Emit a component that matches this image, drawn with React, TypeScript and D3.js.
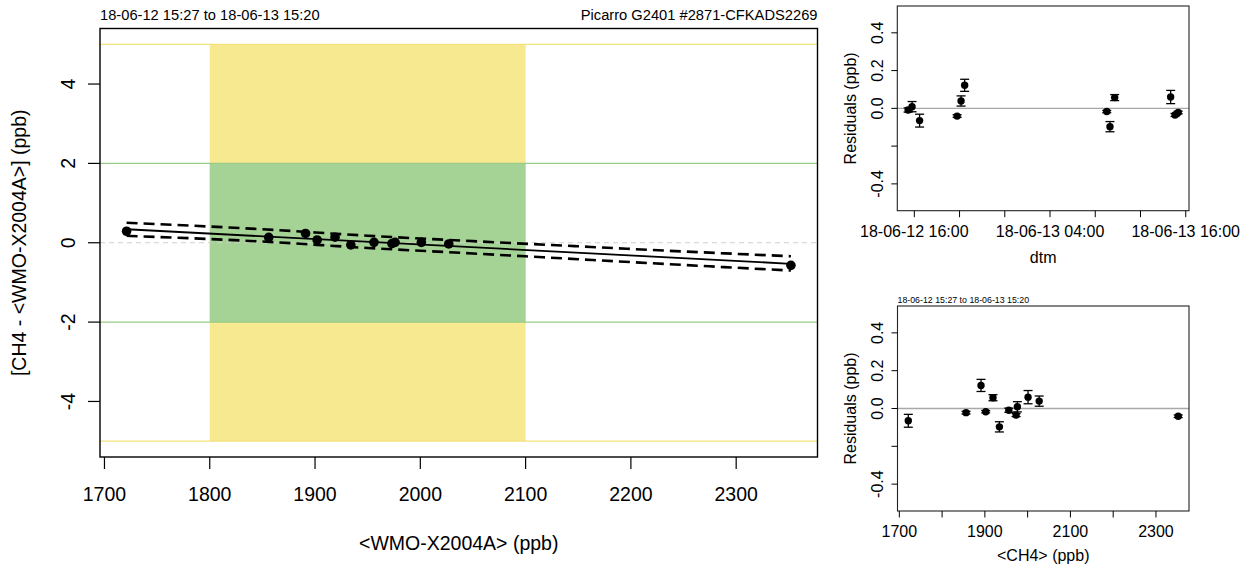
import React from "react";
import * as d3 from "d3";

const FONT = "'Liberation Sans', Arial, Helvetica, sans-serif";

// ---- data (one entry per calibration sample, time ordered) ----
const sampleTimes = [
  "2018-06-12 15:27", "2018-06-12 15:48", "2018-06-12 16:28", "2018-06-12 19:47",
  "2018-06-12 20:08", "2018-06-12 20:27", "2018-06-13 09:01", "2018-06-13 09:18",
  "2018-06-13 09:43", "2018-06-13 14:40", "2018-06-13 15:03", "2018-06-13 15:20",
];
const ch4Values = [1956, 1976, 1721, 2352, 2027, 1891, 1902, 1934, 1919, 2001, 1973, 1856];
const diffValues = [0.01, 0.01, 0.29, -0.57, -0.03, 0.235, 0.07, -0.055, 0.14, 0.01, -0.02, 0.135];
const residuals = [-0.009, 0.009, -0.065, -0.041, 0.039, 0.122, -0.017, -0.097, 0.057, 0.06, -0.035, -0.022];
const residualErrors = [0.011, 0.027, 0.034, 0.007, 0.027, 0.032, 0.006, 0.027, 0.016, 0.035, 0.008, 0.007];

// fit and its band
const fitX = [1721, 2352];
const fitY = [0.34, -0.53];
const bandX = [1721, 1850, 1950, 2050, 2150, 2250, 2352];
const bandUpper = [0.505, 0.34, 0.178, 0.04, -0.09, -0.22, -0.34];
const bandLower = [0.175, 0.03, -0.132, -0.27, -0.415, -0.56, -0.7];

// reference ranges
const targetRange = [1800, 2100];
const outerLimits = [-5, 5];
const innerLimits = [-2, 2];

// ticks
const mainXTicks = [1700, 1800, 1900, 2000, 2100, 2200, 2300];
const mainYTicks = [-4, -2, 0, 2, 4];
const resYTicks = [-0.4, -0.2, 0, 0.2, 0.4];
const resYTickLabels = ["-0.4", "", "0.0", "0.2", "0.4"];
const ch4Ticks = [1700, 1800, 1900, 2000, 2100, 2200, 2300];
const ch4TickLabels = ["1700", "", "1900", "", "2100", "", "2300"];
const timeTicks = [
  "2018-06-12 16:00", "2018-06-12 20:00", "2018-06-13 00:00", "2018-06-13 04:00",
  "2018-06-13 08:00", "2018-06-13 12:00", "2018-06-13 16:00",
];
const timeTickLabels = ["18-06-12 16:00", "", "", "18-06-13 04:00", "", "", "18-06-13 16:00"];

const periodText = "18-06-12 15:27 to 18-06-13 15:20";
const instrumentText = "Picarro G2401 #2871-CFKADS2269";

const parseT = d3.timeParse("%Y-%m-%d %H:%M");

function expand(ext: [number, number], f = 0.04): [number, number] {
  const r = ext[1] - ext[0];
  return [ext[0] - r * f, ext[1] + r * f];
}

export default function App() {
  const times = sampleTimes.map((s) => parseT(s) as Date);

  // main panel
  const M = { l: 100, r: 817.5, t: 28.5, b: 457 };
  const xDom = expand(d3.extent(ch4Values) as [number, number]);
  const x = d3.scaleLinear().domain(xDom).range([M.l, M.r]);
  const y = d3.scaleLinear().domain(expand([outerLimits[0], outerLimits[1]])).range([M.b, M.t]);

  const lineGen = d3.line<[number, number]>().x((d) => x(d[0])).y((d) => y(d[1]));
  const curveGen = d3
    .line<[number, number]>()
    .x((d) => x(d[0]))
    .y((d) => y(d[1]))
    .curve(d3.curveMonotoneX);

  // top-right panel (residuals vs time)
  const T = { l: 897.3, r: 1189, t: 6, b: 210.7 };
  const tExt = d3.extent(times) as [Date, Date];
  const tSpan = +tExt[1] - +tExt[0];
  const xt = d3
    .scaleTime()
    .domain([new Date(+tExt[0] - 0.04 * tSpan), new Date(+tExt[1] + 0.04 * tSpan)])
    .range([T.l, T.r]);
  const yt = d3.scaleLinear().domain([-0.542, 0.542]).range([T.b, T.t]);

  // bottom-right panel (residuals vs CH4)
  const B = { l: 897.5, r: 1189, t: 306, b: 511 };
  const xb = d3.scaleLinear().domain(xDom).range([B.l, B.r]);
  const yb = d3.scaleLinear().domain([-0.542, 0.542]).range([B.b, B.t]);

  const yellow = "#f7e98f";
  const green = "#a5d396";

  const errBar = (cx: number, y0: number, y1: number, key: string) => (
    <g key={key} stroke="#000" strokeWidth={1.3}>
      <line x1={cx} x2={cx} y1={y0} y2={y1} />
      <line x1={cx - 4.5} x2={cx + 4.5} y1={y0} y2={y0} />
      <line x1={cx - 4.5} x2={cx + 4.5} y1={y1} y2={y1} />
    </g>
  );

  const resYAxis = (P: typeof T, ys: d3.ScaleLinear<number, number>) => (
    <g>
      {resYTicks.map((v, i) => (
        <g key={i}>
          <line x1={P.l - 6} x2={P.l} y1={ys(v)} y2={ys(v)} stroke="#000" strokeWidth={1} />
          {resYTickLabels[i] && (
            <text
              transform={`translate(${883.3},${ys(v)}) rotate(-90)`}
              textAnchor="middle"
              fontSize={16}
            >
              {resYTickLabels[i]}
            </text>
          )}
        </g>
      ))}
      <text
        transform={`translate(${855.5},${(P.t + P.b) / 2}) rotate(-90)`}
        textAnchor="middle"
        fontSize={16}
      >
        Residuals (ppb)
      </text>
    </g>
  );

  return (
    <svg width={1248} height={568} style={{ display: "block", position: "absolute", left: 0, top: 0 }} fontFamily={FONT}>
      <rect x={0} y={0} width={1248} height={568} fill="#fff" />

      {/* ===== main panel ===== */}
      <rect
        x={x(targetRange[0])}
        width={x(targetRange[1]) - x(targetRange[0])}
        y={y(outerLimits[1])}
        height={y(outerLimits[0]) - y(outerLimits[1])}
        fill={yellow}
      />
      <rect
        x={x(targetRange[0])}
        width={x(targetRange[1]) - x(targetRange[0])}
        y={y(innerLimits[1])}
        height={y(innerLimits[0]) - y(innerLimits[1])}
        fill={green}
      />
      {outerLimits.map((v, i) => (
        <line key={"o" + i} x1={M.l} x2={M.r} y1={y(v)} y2={y(v)} stroke="#f3e27e" strokeWidth={1.2} />
      ))}
      {innerLimits.map((v, i) => (
        <line key={"i" + i} x1={M.l} x2={M.r} y1={y(v)} y2={y(v)} stroke="#98cc86" strokeWidth={1.2} />
      ))}
      <line x1={M.l} x2={M.r} y1={y(0)} y2={y(0)} stroke="#cfcfcf" strokeWidth={1.2} strokeDasharray="5 4" />

      <path
        d={curveGen(bandX.map((v, i) => [v, bandUpper[i]] as [number, number])) || ""}
        fill="none"
        stroke="#000"
        strokeWidth={2.6}
        strokeDasharray="11 6"
      />
      <path
        d={curveGen(bandX.map((v, i) => [v, bandLower[i]] as [number, number])) || ""}
        fill="none"
        stroke="#000"
        strokeWidth={2.6}
        strokeDasharray="11 6"
      />
      <path
        d={lineGen(fitX.map((v, i) => [v, fitY[i]] as [number, number])) || ""}
        fill="none"
        stroke="#000"
        strokeWidth={1.8}
      />
      {ch4Values.map((v, i) => (
        <circle key={"p" + i} cx={x(v)} cy={y(diffValues[i])} r={4.8} fill="#000" />
      ))}

      <rect x={M.l} y={M.t} width={M.r - M.l} height={M.b - M.t} fill="none" stroke="#000" strokeWidth={1.4} />
      {mainXTicks.map((v) => (
        <g key={"xt" + v}>
          <line x1={x(v)} x2={x(v)} y1={M.b} y2={M.b + 12} stroke="#000" strokeWidth={1.2} />
          <text x={x(v)} y={501} textAnchor="middle" fontSize={19.5}>
            {v}
          </text>
        </g>
      ))}
      {mainYTicks.map((v) => (
        <g key={"yt" + v}>
          <line x1={M.l - 12} x2={M.l} y1={y(v)} y2={y(v)} stroke="#000" strokeWidth={1.2} />
          <text transform={`translate(75,${y(v)}) rotate(-90)`} textAnchor="middle" fontSize={19.5}>
            {v}
          </text>
        </g>
      ))}
      <text x={(M.l + M.r) / 2} y={550} textAnchor="middle" fontSize={19.5}>
        {"<WMO-X2004A> (ppb)"}
      </text>
      <text transform={`translate(26,${(M.t + M.b) / 2}) rotate(-90)`} textAnchor="middle" fontSize={19.5}>
        {"[CH4 - <WMO-X2004A>] (ppb)"}
      </text>
      <text x={M.l} y={20} fontSize={14.7}>
        {periodText}
      </text>
      <text x={M.r} y={20} textAnchor="end" fontSize={14.7}>
        {instrumentText}
      </text>

      {/* ===== top-right: residuals vs time ===== */}
      <line x1={T.l} x2={T.r} y1={yt(0)} y2={yt(0)} stroke="#a8a8a8" strokeWidth={1.3} />
      {times.map((t, i) =>
        errBar(xt(t), yt(residuals[i] + residualErrors[i]), yt(residuals[i] - residualErrors[i]), "te" + i)
      )}
      {times.map((t, i) => (
        <circle key={"tp" + i} cx={xt(t)} cy={yt(residuals[i])} r={3.7} fill="#000" />
      ))}
      <rect x={T.l} y={T.t} width={T.r - T.l} height={T.b - T.t} fill="none" stroke="#222" strokeWidth={1.1} />
      {timeTicks.map((s, i) => {
        const px = xt(parseT(s) as Date);
        return (
          <g key={"tt" + i}>
            <line x1={px} x2={px} y1={T.b} y2={T.b + 6.5} stroke="#000" strokeWidth={1} />
            {timeTickLabels[i] && (
              <text x={px} y={237.3} textAnchor="middle" fontSize={16}>
                {timeTickLabels[i]}
              </text>
            )}
          </g>
        );
      })}
      {resYAxis(T, yt)}
      <text x={(T.l + T.r) / 2} y={263.3} textAnchor="middle" fontSize={16}>
        dtm
      </text>

      {/* ===== bottom-right: residuals vs CH4 ===== */}
      <text x={B.l} y={302.7} fontSize={8.8}>
        {periodText}
      </text>
      <line x1={B.l} x2={B.r} y1={yb(0)} y2={yb(0)} stroke="#a8a8a8" strokeWidth={1.3} />
      {ch4Values.map((v, i) =>
        errBar(xb(v), yb(residuals[i] + residualErrors[i]), yb(residuals[i] - residualErrors[i]), "be" + i)
      )}
      {ch4Values.map((v, i) => (
        <circle key={"bp" + i} cx={xb(v)} cy={yb(residuals[i])} r={3.7} fill="#000" />
      ))}
      <rect x={B.l} y={B.t} width={B.r - B.l} height={B.b - B.t} fill="none" stroke="#222" strokeWidth={1.1} />
      {ch4Ticks.map((v, i) => (
        <g key={"bt" + v}>
          <line x1={xb(v)} x2={xb(v)} y1={B.b} y2={B.b + 6.5} stroke="#000" strokeWidth={1} />
          {ch4TickLabels[i] && (
            <text x={xb(v)} y={537.3} textAnchor="middle" fontSize={16}>
              {ch4TickLabels[i]}
            </text>
          )}
        </g>
      ))}
      {resYAxis(B, yb)}
      <text x={(B.l + B.r) / 2} y={561} textAnchor="middle" fontSize={16}>
        {"<CH4> (ppb)"}
      </text>
    </svg>
  );
}
